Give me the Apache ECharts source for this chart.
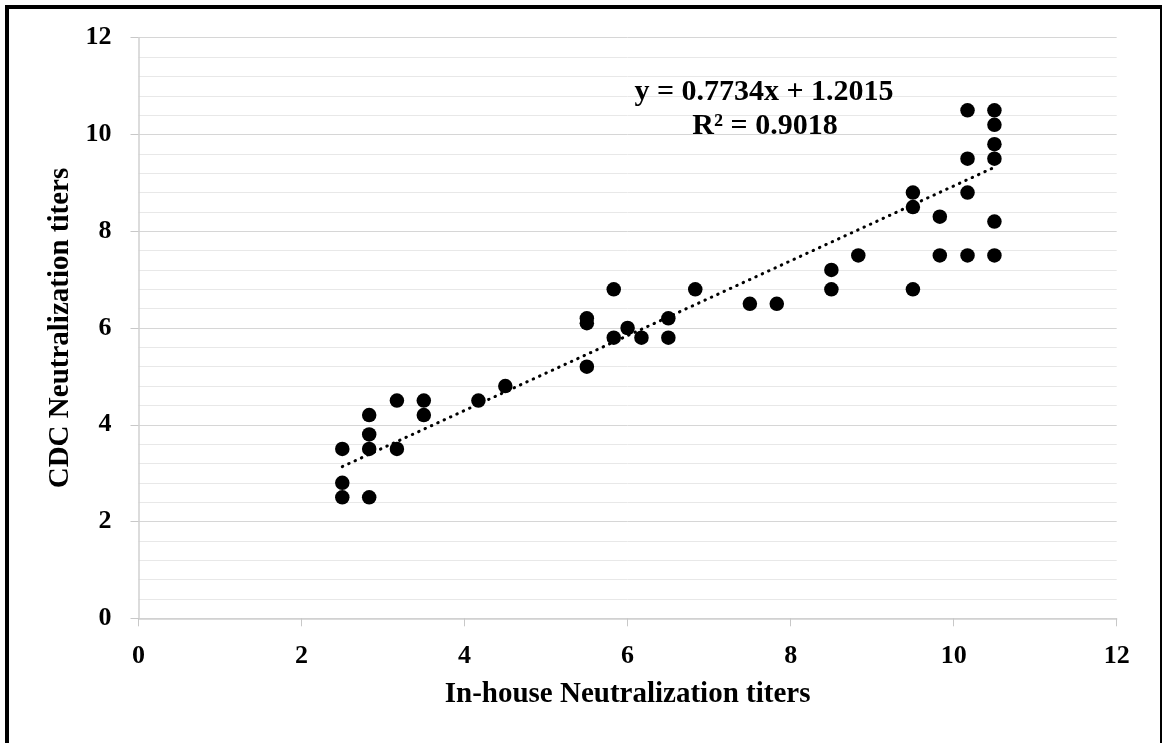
<!DOCTYPE html>
<html>
<head>
<meta charset="utf-8">
<script src="https://cdn.jsdelivr.net/npm/echarts@6/dist/echarts.min.js"></script>
<style>
html,body{margin:0;padding:0;background:#fff;}
#chart{width:1162px;height:743px;}
</style>
</head>
<body>
<div id="chart"></div>
<script>
// In-house titers (x) and CDC titers (y)
var inHouse = [2.5, 2.5, 2.5, 2.83, 2.83, 2.83, 2.83, 3.17, 3.17, 3.5, 3.5, 4.17, 4.5,
  5.5, 5.5, 5.5, 5.83, 5.83, 6.0, 6.17, 6.5, 6.5, 6.83, 7.5, 7.83, 8.5, 8.5, 8.83,
  9.5, 9.5, 9.5, 9.83, 9.83, 10.17, 10.17, 10.17, 10.17, 10.5, 10.5, 10.5, 10.5, 10.5, 10.5];
var cdc = [3.5, 2.8, 2.5, 4.2, 3.8, 3.5, 2.5, 4.5, 3.5, 4.5, 4.2, 4.5, 4.8,
  6.2, 6.1, 5.2, 6.8, 5.8, 6.0, 5.8, 6.2, 5.8, 6.8, 6.5, 6.5, 7.2, 6.8, 7.5,
  8.8, 8.5, 6.8, 8.3, 7.5, 10.5, 9.5, 8.8, 7.5, 10.5, 10.2, 9.8, 9.5, 8.2, 7.5];
// Linear trendline endpoints (as drawn in the reference)
var trendX = [2.5, 10.5];
var trendY = [3.135, 9.322];
var equationText = 'y = 0.7734x + 1.2015';
var r2Text = 'R\u00B2 = 0.9018';
var xTitle = 'In-house Neutralization titers';
var yTitle = 'CDC Neutralization titers';

var points = inHouse.map(function (v, i) { return [v, cdc[i]]; });
var trend = trendX.map(function (v, i) { return [v, trendY[i]]; });

var FONT = '"Liberation Serif", "Times New Roman", serif';
var chart = echarts.init(document.getElementById('chart'), null, {renderer: 'canvas'});
chart.setOption({
  backgroundColor: '#ffffff',
  animation: false,
  grid: {left: 138.5, right: 45.3, top: 37.7, bottom: 124.7, containLabel: false},
  xAxis: {
    type: 'value', min: 0, max: 12, interval: 2,
    name: xTitle, nameLocation: 'middle', nameGap: 62,
    nameTextStyle: {fontFamily: FONT, fontWeight: 'bold', fontSize: 29, color: '#000'},
    axisLine: {show: true, onZero: false, lineStyle: {color: '#d0d0d0', width: 1.5}},
    axisTick: {show: true, inside: false, length: 8, lineStyle: {color: '#c8c8c8', width: 1}},
    axisLabel: {fontFamily: FONT, fontWeight: 'bold', fontSize: 26, color: '#000', margin: 25},
    splitLine: {show: false}
  },
  yAxis: {
    type: 'value', min: 0, max: 12, interval: 2,
    name: yTitle, nameLocation: 'middle', nameGap: 63, nameRotate: 90,
    nameTextStyle: {fontFamily: FONT, fontWeight: 'bold', fontSize: 29, color: '#000'},
    axisLine: {show: true, onZero: false, lineStyle: {color: '#d0d0d0', width: 1.5}},
    axisTick: {show: true, inside: false, length: 8, lineStyle: {color: '#c8c8c8', width: 1}},
    axisLabel: {fontFamily: FONT, fontWeight: 'bold', fontSize: 26, color: '#000', margin: 27,
                padding: [5, 0, 0, 0]},
    splitLine: {show: true, lineStyle: {color: '#d6d6d6', width: 1}},
    minorTick: {show: false, splitNumber: 5},
    minorSplitLine: {show: true, lineStyle: {color: '#e8e8e8', width: 1}}
  },
  series: [
    {
      type: 'scatter', data: points, symbol: 'circle', symbolSize: 14.5,
      itemStyle: {color: '#000000', opacity: 1}, z: 3
    },
    {
      type: 'line', data: trend, symbol: 'none', z: 2,
      lineStyle: {color: '#000000', width: 3, type: [0.5, 6.5], cap: 'round'}
    }
  ],
  graphic: [
    {type: 'text', x: 764, y: 92, z: 10,
     style: {text: equationText, font: 'bold 30px ' + FONT, fill: '#000', textAlign: 'center', textVerticalAlign: 'middle'}},
    {type: 'text', x: 765, y: 126, z: 10,
     style: {text: r2Text, font: 'bold 30px ' + FONT, fill: '#000', textAlign: 'center', textVerticalAlign: 'middle'}},
    {type: 'rect', z: 20, shape: {x: 7, y: 7, width: 1155, height: 800},
     style: {fill: 'none', stroke: '#000', lineWidth: 4}}
  ]
});
</script>
</body>
</html>
